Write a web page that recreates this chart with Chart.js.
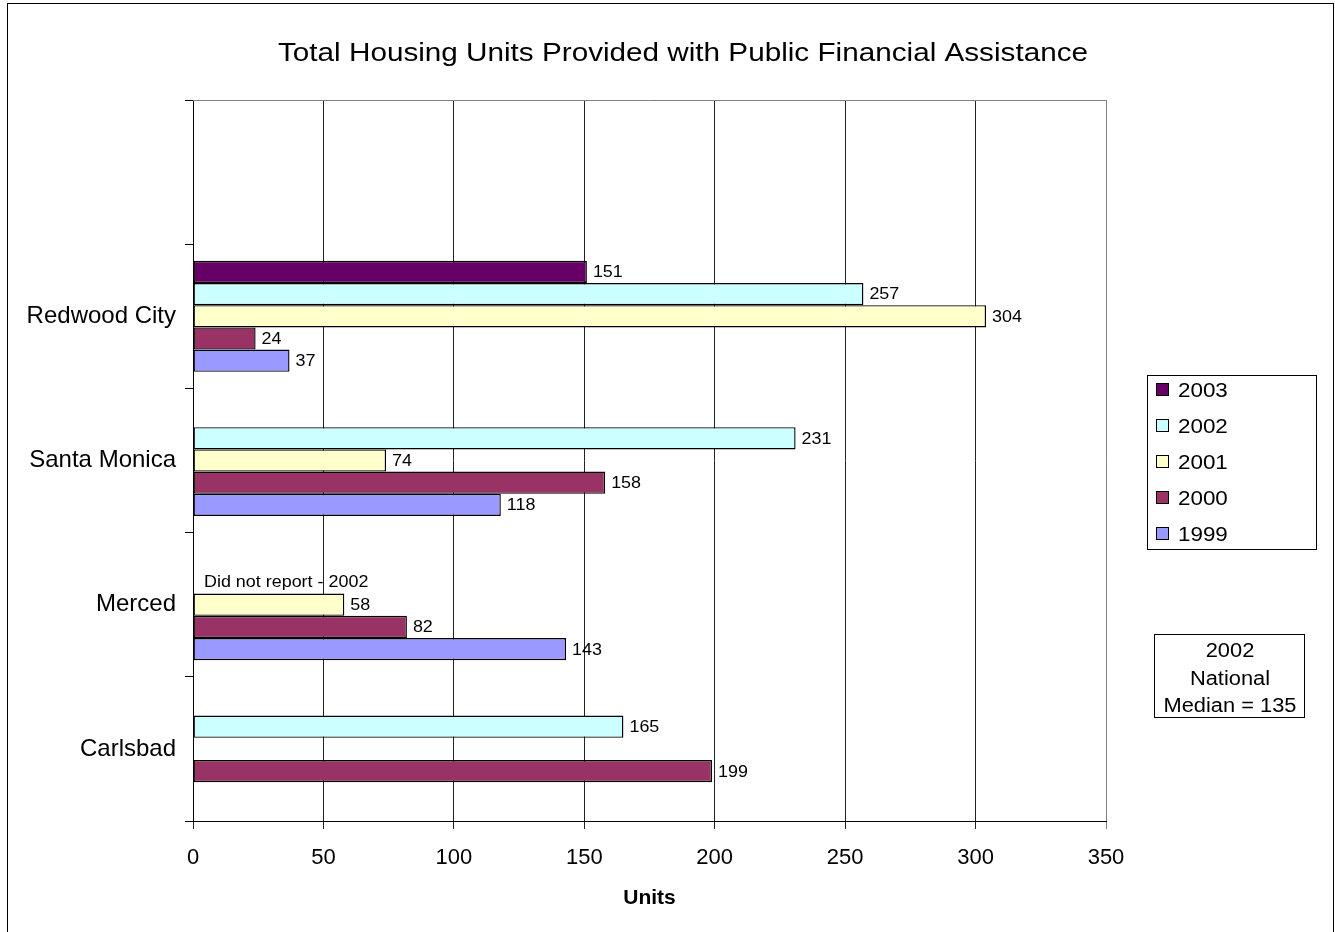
<!DOCTYPE html>
<html lang="en">
<head>
  <meta charset="UTF-8">
  <title>Total Housing Units Provided with Public Financial Assistance</title>
  <script src="https://cdn.jsdelivr.net/npm/chart.js"></script>
  <style>
    body {
      margin: 0;
      background: #fff;
      font-family: Arial, "Liberation Sans", sans-serif;
    }
    #chart-container {
      position: relative;
      width: 1335px;
      height: 932px;
    }
  </style>
</head>
<body>
  <div id="chart-container">
    <canvas id="housingChart"></canvas>
  </div>

  <script>
    // cities (the first slot is left empty on purpose)
    const cities = ["", "Redwood City", "Santa Monica", "Merced", "Carlsbad"];
    const years = ["2003", "2002", "2001", "2000", "1999"];

    // units per city, one array per year
    const units2003 = [null, 151, null, null, null];
    const units2002 = [null, 257, 231, null, 165];
    const units2001 = [null, 304, 74, 58, null];
    const units2000 = [null, 24, 158, 82, 199];
    const units1999 = [null, 37, 118, 143, null];

    const xTicks = [0, 50, 100, 150, 200, 250, 300, 350];

    const missingNote = { city: "Merced", year: "2002", text: "Did not report - 2002" };
    const medianNote = ["2002", "National", "Median = 135"];

    const yearColors = ["#660066", "#CCFFFF", "#FFFFCC", "#993366", "#9999FF"];

    const FONT = "Arial, 'Liberation Sans', sans-serif";
    const STRETCH = 1.12;

    const seriesValues = [units2003, units2002, units2001, units2000, units1999];

    // text drawn a little wider than tall, like the rest of the chart
    function wideText(ctx, text, x, y, size, align, bold) {
      ctx.save();
      ctx.font = (bold ? "bold " : "") + size + "px " + FONT;
      ctx.textBaseline = "middle";
      ctx.textAlign = align;
      ctx.translate(x, y);
      ctx.scale(STRETCH, 1);
      ctx.fillText(text, 0, 0);
      ctx.restore();
    }

    const extras = {
      id: "extras",
      afterDatasetsDraw(chart) {
        const ctx = chart.ctx;
        const area = chart.chartArea;
        ctx.save();
        ctx.fillStyle = "#000";

        // value labels at the end of each bar
        chart.data.datasets.forEach((ds, di) => {
          const meta = chart.getDatasetMeta(di);
          meta.data.forEach((bar, i) => {
            const v = ds.data[i];
            if (v === null) return;
            wideText(ctx, String(v), bar.x + 6, bar.y + 1, 16, "left");
          });
        });

        // note for the missing year
        const di = years.indexOf(missingNote.year);
        const ci = cities.indexOf(missingNote.city);
        const slot = chart.getDatasetMeta(di).data[ci];
        wideText(ctx, missingNote.text, area.left + 11, slot.y, 16, "left");

        // top edge of the plot frame
        ctx.strokeStyle = "#808080";
        ctx.lineWidth = 1;
        ctx.beginPath();
        ctx.moveTo(area.left, Math.round(area.top) + 0.5);
        ctx.lineTo(area.right, Math.round(area.top) + 0.5);
        ctx.stroke();
        ctx.restore();
      },
      afterDraw(chart) {
        const ctx = chart.ctx;
        ctx.save();
        ctx.fillStyle = "#000";
        ctx.strokeStyle = "#000";
        ctx.lineWidth = 1;

        // outer frame
        ctx.strokeRect(7.5, 3.5, 1326, 960);

        // title
        wideText(ctx, "Total Housing Units Provided with Public Financial Assistance", 683, 54, 26.5, "center");

        // legend
        ctx.strokeRect(1147.5, 375.5, 169, 174);
        chart.data.datasets.forEach((ds, i) => {
          const cy = 390 + i * 36;
          ctx.fillStyle = ds.backgroundColor;
          ctx.fillRect(1156.5, cy - 6.5, 12, 12);
          ctx.strokeRect(1156.5, cy - 6.5, 12, 12);
          ctx.fillStyle = "#000";
          wideText(ctx, ds.label, 1178, cy + 1, 20, "left");
        });

        // median note
        ctx.strokeRect(1154.5, 634.5, 150, 83);
        medianNote.forEach((line, i) => {
          wideText(ctx, line, 1230, 652 + i * 27.5, 19.5, "center");
        });
        ctx.restore();
      }
    };

    const ctx = document.getElementById("housingChart").getContext("2d");

    new Chart(ctx, {
      type: "bar",
      data: {
        labels: cities,
        datasets: years.map((year, i) => ({
          label: year,
          data: seriesValues[i],
          backgroundColor: yearColors[i],
          borderColor: "#000",
          borderWidth: 1.4,
          borderSkipped: false,
          categoryPercentage: 0.77,
          barPercentage: 1.0
        }))
      },
      options: {
        indexAxis: "y",
        responsive: true,
        maintainAspectRatio: false,
        animation: false,
        layout: {
          padding: { left: 0, top: 100, right: 229, bottom: 0 }
        },
        plugins: {
          legend: { display: false },
          title: { display: false },
          tooltip: { enabled: false }
        },
        scales: {
          x: {
            type: "linear",
            min: 0,
            max: 350,
            afterBuildTicks(scale) {
              scale.ticks = xTicks.map(v => ({ value: v }));
            },
            afterFit(scale) {
              scale.height = 111;
            },
            grid: {
              color: ctx => (ctx.tick && ctx.tick.value === 350 ? "#808080" : "#222"),
              lineWidth: 1,
              tickLength: 8,
              drawTicks: true
            },
            border: { display: true, color: "#000" },
            ticks: {
              color: "#000",
              padding: 16,
              font: { family: FONT, size: 22 }
            },
            title: {
              display: true,
              text: "Units",
              color: "#000",
              font: { family: FONT, size: 21, weight: "bold" },
              padding: { top: 0, bottom: 21 }
            }
          },
          y: {
            afterFit(scale) {
              scale.width = 193;
            },
            grid: {
              offset: true,
              drawOnChartArea: false,
              drawTicks: true,
              tickLength: 8,
              color: "#000"
            },
            border: { display: true, color: "#000" },
            ticks: {
              color: "#000",
              padding: 9,
              font: { family: FONT, size: 24 }
            }
          }
        }
      },
      plugins: [extras]
    });
  </script>
</body>
</html>
